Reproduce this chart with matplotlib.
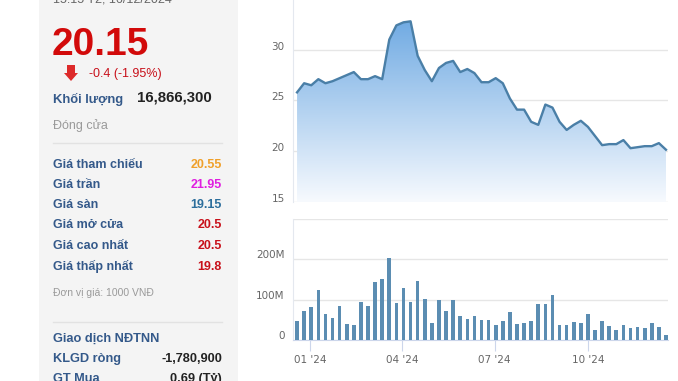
import numpy as np
import pandas as pd
import matplotlib
matplotlib.use("Agg")
import matplotlib.pyplot as plt
import matplotlib.dates as mdates
from matplotlib.patches import Rectangle, Polygon
from matplotlib.lines import Line2D
from matplotlib.transforms import ScaledTranslation

# weekly data, Dec 2023 -> Dec 2024
weeks = pd.date_range("2023-12-19", periods=53, freq="7D")
price = [25.8, 26.7, 26.5, 27.1, 26.7, 26.9, 27.2, 27.5, 27.8, 27.1,
         27.1, 27.4, 27.1, 31.0, 32.4, 32.7, 32.8, 29.4, 28.0, 26.9,
         28.2, 28.7, 28.9, 27.8, 28.1, 27.7, 26.8, 26.8, 27.2, 26.7,
         25.2, 24.1, 24.1, 22.9, 22.6, 24.6, 24.3, 22.9, 22.1, 22.6,
         23.0, 22.4, 21.5, 20.6, 20.7, 20.7, 21.1, 20.3, 20.4, 20.5,
         20.5, 20.8, 20.15]
volume_m = [48, 73, 82, 124, 65, 55, 85, 40, 38, 95,
            85, 144, 151, 204, 92, 129, 95, 146, 102, 43,
            99, 73, 99, 60, 53, 60, 50, 50, 38, 48,
            70, 40, 43, 48, 90, 90, 111, 38, 38, 45,
            43, 65, 26, 48, 35, 24, 38, 29, 31, 29,
            43, 31, 13]

price_ticks = [15, 20, 25, 30]
vol_ticks = [0, 100, 200]
vol_tick_labels = ["0", "100M", "200M"]
month_ticks = ["2024-01-01", "2024-04-01", "2024-07-01", "2024-10-01"]
month_labels = ["01 '24", "04 '24", "07 '24", "10 '24"]

# left info panel
last_price = "20.15"
change_txt = "-0.4 (-1.95%)"
volume_txt = "16,866,300"
rows = ["Giá tham chiếu", "Giá trần", "Giá sàn", "Giá mở cửa", "Giá cao nhất", "Giá thấp nhất"]
row_values = ["20.55", "21.95", "19.15", "20.5", "20.5", "19.8"]
row_colors = ["#f0a02a", "#e01ee0", "#2c6e9c", "#c8101a", "#c8101a", "#c8101a"]

W, H = 678, 381
fig = plt.figure(figsize=(W / 100, H / 100), dpi=100)
fig.patch.set_facecolor("white")


def fx(x):
    return x / W


def fy(y):
    return 1 - y / H


LABEL = "#34598a"
FONT = "Liberation Sans"

# grey panel
fig.patches.append(Rectangle((fx(39), 0), fx(238) - fx(39), 1, transform=fig.transFigure,
                             facecolor="#f4f4f4", edgecolor="none", zorder=0))

fig.text(fx(53), fy(2), "15:15 T2, 16/12/2024", family=FONT, fontsize=9, color="#666666", va="baseline")
fig.text(fx(52), fy(55), last_price, family=FONT, fontsize=28, weight="bold", color="#d20a0a", va="baseline")

# down arrow
arrow = [(67, 65), (75, 65), (75, 73), (78, 73), (71, 81), (64, 73), (67, 73)]
fig.patches.append(Polygon([(fx(a), fy(b)) for a, b in arrow], closed=True, transform=fig.transFigure,
                           facecolor="#dd2a2a", edgecolor="none"))
fig.text(fx(89), fy(77.5), change_txt, family=FONT, fontsize=9, color="#c8101a", va="baseline")

fig.text(fx(53), fy(103), "Khối lượng", family=FONT, fontsize=9.4, weight="bold", color=LABEL, va="baseline")
fig.text(fx(137), fy(102), volume_txt, family=FONT, fontsize=10.8, weight="bold", color="#222222", va="baseline")
fig.text(fx(53), fy(129), "Đóng cửa", family=FONT, fontsize=9, color="#9a9a9a", va="baseline")

fig.lines.append(Line2D([fx(53), fx(222)], [fy(143), fy(143)], transform=fig.transFigure, color="#e2e2e2", lw=1))

row_y = [168, 188, 208, 228.5, 249, 270]
for lab, val, col, y in zip(rows, row_values, row_colors, row_y):
    fig.text(fx(53), fy(y), lab, family=FONT, fontsize=9, weight="bold", color=LABEL, va="baseline")
    fig.text(fx(222), fy(y), val, family=FONT, fontsize=9, weight="bold", color=col, va="baseline", ha="right")

fig.text(fx(53), fy(296), "Đơn vị giá: 1000 VNĐ", family=FONT, fontsize=7.5, color="#9a9a9a", va="baseline")
fig.lines.append(Line2D([fx(53), fx(222)], [fy(322), fy(322)], transform=fig.transFigure, color="#e2e2e2", lw=1))

fig.text(fx(53), fy(342), "Giao dịch NĐTNN", family=FONT, fontsize=9.2, weight="bold", color=LABEL, va="baseline")
fig.text(fx(53), fy(362), "KLGD ròng", family=FONT, fontsize=9.2, weight="bold", color=LABEL, va="baseline")
fig.text(fx(222), fy(362), "-1,780,900", family=FONT, fontsize=9.2, weight="bold", color="#222222", va="baseline", ha="right")
fig.text(fx(53), fy(382), "GT Mua", family=FONT, fontsize=9.2, weight="bold", color=LABEL, va="baseline")
fig.text(fx(222), fy(382), "0.69 (Tỷ)", family=FONT, fontsize=9.2, weight="bold", color="#222222", va="baseline", ha="right")

# chart axes
x0, x1 = 293, 668
xnum = mdates.date2num(weeks)
xlim = (xnum[0] - 4, xnum[-1] + 2)

axp = fig.add_axes([fx(x0), fy(202), fx(x1) - fx(x0), fy(0) - fy(202)])
axv = fig.add_axes([fx(x0), fy(340), fx(x1) - fx(x0), fy(219) - fy(340)])

GRID = "#e6e6e6"
TICK_COL = "#666666"

# price area with vertical gradient
axp.set_xlim(xlim)
axp.set_ylim(15, 34.9)
fill = axp.fill_between(xnum, price, 15, color="none", lw=0)
top = np.array([0x6c, 0xa8, 0xe2]) / 255
bot = np.array([0xf7, 0xfa, 0xfe]) / 255
t = np.linspace(0, 1, 256)[:, None]
grad = (top * (1 - t) + bot * t)[:, None, :]
img = axp.imshow(grad, extent=[xlim[0], xlim[1], 15, 33.5], aspect="auto", origin="upper", zorder=1)
path = fill.get_paths()[0]
img.set_clip_path(path, transform=axp.transData)
axp.plot(xnum, price, color="#4a7fa7", lw=1.7, zorder=3, solid_joinstyle="round")
axp.set_ylim(15, 34.9)

axp.set_yticks(price_ticks)
axp.set_yticklabels([str(v) for v in price_ticks])
axp.yaxis.grid(True, color=GRID, lw=1)
axp.set_axisbelow(True)
axp.set_xticks([])
for s in ["top", "right", "bottom"]:
    axp.spines[s].set_visible(False)
axp.spines["left"].set_color("#e4e8ef")
axp.tick_params(axis="y", length=0, pad=6, labelsize=7.5, labelcolor=TICK_COL)
for lab in axp.get_yticklabels():
    lab.set_transform(lab.get_transform() + ScaledTranslation(0, 4 / 100, fig.dpi_scale_trans))

# volume bars
axv.bar(xnum, volume_m, width=3.6, color="#5b8db2", zorder=3)
axv.set_xlim(xlim)
axv.set_ylim(0, 300)
axv.set_yticks([0, 100, 200, 300])
axv.set_yticklabels(vol_tick_labels + [""])
axv.yaxis.grid(True, color=GRID, lw=1)
axv.set_axisbelow(True)
for s in ["top", "right"]:
    axv.spines[s].set_visible(False)
axv.spines["left"].set_color("#e4e8ef")
axv.spines["bottom"].set_color("#ccd6eb")
axv.tick_params(axis="y", length=0, pad=6, labelsize=7.5, labelcolor=TICK_COL)
for lab in axv.get_yticklabels():
    lab.set_transform(lab.get_transform() + ScaledTranslation(0, 5 / 100, fig.dpi_scale_trans))
axv.set_xticks(mdates.date2num(pd.to_datetime(month_ticks)))
axv.set_xticklabels(month_labels)
axv.tick_params(axis="x", length=8, color="#ccd6eb", pad=3, labelsize=7.5, labelcolor=TICK_COL)

fig.savefig("out.png", dpi=100)
